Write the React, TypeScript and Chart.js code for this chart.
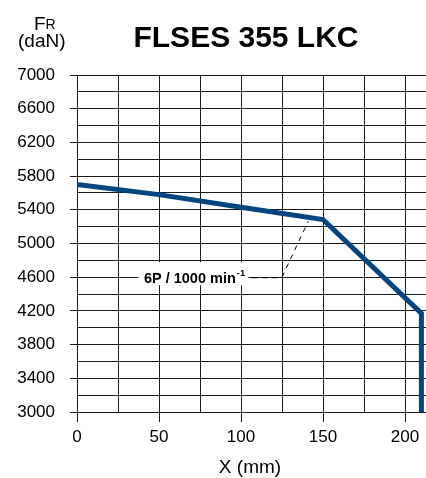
import React, { useEffect, useRef } from "react";
import { Chart, registerables } from "chart.js";

Chart.register(...registerables);

// ---- data ----
const xPositions = [0, 50, 100, 150, 210, 210]; // X (mm)
const forceValues = [5700, 5580, 5430, 5285, 4170, 3000]; // FR (daN)
const xTickLabels = [0, 50, 100, 150, 200];
const yTickLabels = [3000, 3400, 3800, 4200, 4600, 5000, 5400, 5800, 6200, 6600, 7000];
const chartTitle = "FLSES 355 LKC";
const yTitleMain = "F";
const yTitleSub = "R";
const yTitleUnit = "(daN)";
const xAxisTitle = "X (mm)";
const curveLabel = "6P / 1000 min";
const curveLabelSup = "-1";

const FONT = '"Liberation Sans", Arial, Helvetica, sans-serif';
const GRID = "#1a1a1a";
const LINE = "#03467f";

const textPlugin = {
  id: "customTexts",
  afterDraw(chart: any) {
    const ctx = chart.ctx as CanvasRenderingContext2D;
    const xs = chart.scales.x;
    const ys = chart.scales.y;
    ctx.save();
    ctx.fillStyle = "#000";
    ctx.textBaseline = "alphabetic";

    // title
    ctx.font = `bold 30px ${FONT}`;
    ctx.textAlign = "center";
    ctx.fillText(chartTitle, 246, 47);

    // y axis title
    ctx.textAlign = "left";
    ctx.font = `19px ${FONT}`;
    ctx.fillText(yTitleMain, 34, 30);
    const fw = ctx.measureText(yTitleMain).width;
    ctx.font = `14px ${FONT}`;
    ctx.fillText(yTitleSub, 34 + fw, 28.5);
    ctx.font = `19px ${FONT}`;
    ctx.fillText(yTitleUnit, 18, 47);

    // x axis title
    ctx.textAlign = "center";
    ctx.font = `19px ${FONT}`;
    ctx.fillText(xAxisTitle, 250, 473);

    // curve annotation
    const labelY = ys.getPixelForValue(4600);
    const boxL = xs.getPixelForValue(37.5);
    const boxR = xs.getPixelForValue(104.5);
    ctx.fillStyle = "#fff";
    ctx.fillRect(boxL, labelY - 15, boxR - boxL, 23);
    ctx.fillStyle = "#000";
    ctx.textAlign = "left";
    ctx.font = `bold 14.5px ${FONT}`;
    const tx = xs.getPixelForValue(40.8);
    ctx.fillText(curveLabel, tx, labelY + 5.5);
    const tw = ctx.measureText(curveLabel).width;
    ctx.font = `bold 9.5px ${FONT}`;
    ctx.fillText(curveLabelSup, tx + tw + 1, labelY - 1);

    // leader line
    ctx.strokeStyle = "#000";
    ctx.lineWidth = 1;
    ctx.setLineDash([6, 4]);
    ctx.beginPath();
    ctx.moveTo(xs.getPixelForValue(106.5), labelY + 0.5);
    ctx.lineTo(xs.getPixelForValue(125), labelY + 0.5);
    ctx.stroke();
    ctx.setLineDash([5, 5]);
    ctx.beginPath();
    ctx.moveTo(xs.getPixelForValue(125), labelY);
    ctx.lineTo(xs.getPixelForValue(141), ys.getPixelForValue(5265));
    ctx.stroke();
    ctx.restore();
  },
};

export default function App() {
  const canvasRef = useRef<HTMLCanvasElement | null>(null);

  useEffect(() => {
    const canvas = canvasRef.current;
    if (!canvas) return;
    const points = xPositions.map((x, i) => ({ x, y: forceValues[i] }));
    const chart = new Chart(canvas, {
      type: "line",
      data: {
        datasets: [
          {
            data: points,
            borderColor: LINE,
            borderWidth: 5,
            pointRadius: 0,
            fill: false,
            tension: 0,
            borderJoinStyle: "miter",
          } as any,
        ],
      },
      options: {
        responsive: false,
        animation: false,
        events: [],
        layout: { padding: { top: 75, left: 0, right: 0, bottom: 0 } },
        plugins: {
          legend: { display: false },
          tooltip: { enabled: false },
          title: { display: false },
        },
        scales: {
          x: {
            type: "linear",
            min: 0,
            max: 212.8,
            afterFit: (s: any) => {
              s.height = 66;
            },
            ticks: {
              stepSize: 25,
              autoSkip: false,
              maxRotation: 0,
              includeBounds: false,
              padding: 5,
              color: "#000",
              font: { family: FONT, size: 17 },
              callback: (v: any) => (xTickLabels.includes(Number(v)) ? String(v) : ""),
            },
            grid: {
              color: GRID,
              lineWidth: 1,
              tickLength: 10,
              tickColor: (c: any) =>
                c.tick && xTickLabels.includes(c.tick.value) ? GRID : "rgba(0,0,0,0)",
            },
            border: { display: true, color: GRID },
          },
          y: {
            type: "linear",
            min: 3000,
            max: 7000,
            afterFit: (s: any) => {
              s.width = 77;
            },
            ticks: {
              stepSize: 200,
              autoSkip: false,
              padding: 15,
              color: "#000",
              font: { family: FONT, size: 17 },
              callback: (v: any) => (yTickLabels.includes(Number(v)) ? String(v) : ""),
            },
            grid: {
              color: GRID,
              lineWidth: 1,
              tickLength: 7,
              tickColor: (c: any) =>
                c.tick && yTickLabels.includes(c.tick.value) ? GRID : "rgba(0,0,0,0)",
            },
            border: { display: true, color: GRID },
          },
        },
      },
      plugins: [textPlugin],
    });
    return () => chart.destroy();
  }, []);

  return (
    <div style={{ position: "absolute", left: 0, top: 0, width: 426, height: 478, background: "#fff" }}>
      <canvas ref={canvasRef} width={426} height={478} style={{ display: "block" }} />
    </div>
  );
}
